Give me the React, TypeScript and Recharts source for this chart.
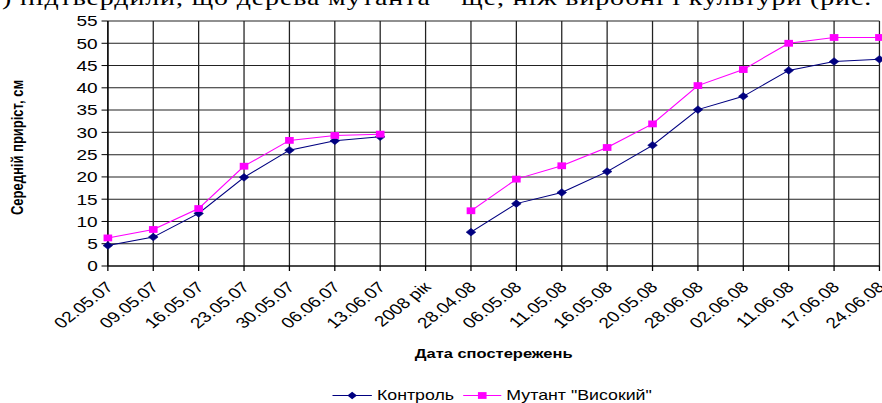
import React from "react";
import { LineChart, Line, XAxis, YAxis, CartesianGrid } from "recharts";

// observation dates (x categories)
const dates = [
  "02.05.07", "09.05.07", "16.05.07", "23.05.07", "30.05.07", "06.06.07", "13.06.07",
  "2008 рік",
  "28.04.08", "06.05.08", "11.05.08", "16.05.08", "20.05.08", "28.06.08", "02.06.08",
  "11.06.08", "17.06.08", "24.06.08",
];

// average growth, cm
const control = [4.6, 6.5, 11.8, 19.9, 26.0, 28.1, 29.0, null, 7.6, 14.0, 16.5, 21.2, 27.1, 35.1, 38.1, 43.9, 45.9, 46.4];
const mutant = [6.3, 8.2, 12.9, 22.4, 28.2, 29.3, 29.6, null, 12.4, 19.5, 22.5, 26.6, 31.9, 40.5, 44.1, 50.0, 51.3, 51.3];

const yTicks = [0, 5, 10, 15, 20, 25, 30, 35, 40, 45, 50, 55];

const data = dates.map((date, i) => ({ date, control: control[i], mutant: mutant[i] }));

// the whole figure is drawn narrow and stretched sideways
const W = 695;
const H = 403;
const SX = 882 / W;

const SANS = '"Liberation Sans", Arial, sans-serif';
const NAVY = "#000080";
const MAGENTA = "#FF00FF";

const diamond = (cx: number, cy: number, r: number) =>
  `M${cx},${cy - r}L${cx + r},${cy}L${cx},${cy + r}L${cx - r},${cy}Z`;

const DiamondDot = (p: any) => {
  if (p.cx == null || p.cy == null || p.value == null) return <g key={`d${p.index}`} />;
  return <path key={`d${p.index}`} d={diamond(p.cx, p.cy, 3.8)} fill={NAVY} stroke={NAVY} strokeWidth={0.5} />;
};

const SquareDot = (p: any) => {
  if (p.cx == null || p.cy == null || p.value == null) return <g key={`s${p.index}`} />;
  return <rect key={`s${p.index}`} x={p.cx - 3.4} y={p.cy - 3.4} width={6.8} height={6.8} fill={MAGENTA} />;
};

const DateTick = (p: any) => {
  const x = p.x + 5;
  const y = p.y + 15;
  return (
    <text x={x} y={y} transform={`rotate(-45 ${x} ${y})`} textAnchor="end" fontSize={15} fontFamily={SANS} fill="#000">
      {p.payload.value}
    </text>
  );
};

const XTitle = () => (
  <text x={389} y={358} textAnchor="middle" fontSize={13} fontWeight="bold" fontFamily={SANS} fill="#000">
    Дата спостережень
  </text>
);

const YTitle = () => (
  <text x={18} y={147.5} transform="rotate(-90 18 147.5)" textAnchor="middle" fontSize={13} fontWeight="bold" fontFamily={SANS} fill="#000">
    Середній приріст, см
  </text>
);

function LegendRow() {
  const y = 395.5;
  return (
    <svg width={W} height={H} style={{ position: "absolute", left: 0, top: 0, pointerEvents: "none" }}>
      <line x1={262} y1={y} x2={293} y2={y} stroke={NAVY} strokeWidth={1} />
      <path d={diamond(277.5, y, 3.8)} fill={NAVY} />
      <text x={297} y={y + 4.5} fontSize={14} fontFamily={SANS} fill="#000">Контроль</text>
      <line x1={365} y1={y} x2={395} y2={y} stroke={MAGENTA} strokeWidth={1} />
      <rect x={376.6} y={y - 3.4} width={6.8} height={6.8} fill={MAGENTA} />
      <text x={399} y={y + 4.5} fontSize={14} fontFamily={SANS} fill="#000">Мутант "Високий"</text>
    </svg>
  );
}

export default function App() {
  return (
    <div style={{ position: "absolute", left: 0, top: 0, width: 882, height: H, overflow: "hidden", background: "#fff" }}>
      <div style={{ position: "relative", width: W, height: H, transform: `scaleX(${SX})`, transformOrigin: "0 0" }}>
        <svg width={W} height={12} style={{ position: "absolute", left: 0, top: 0 }}>
          <text x={1.5} y={5} fontSize={22} fontFamily='"Liberation Serif", "Times New Roman", serif' textLength={685} lengthAdjust="spacing" fill="#000">
            ) підтвердили, що дерева мутанта – ще, ніж виробні і культури (рис.
          </text>
        </svg>
        <LineChart width={W} height={H} data={data} margin={{ top: 21, right: 2, bottom: 0, left: 0 }}>
          <CartesianGrid stroke="#222" strokeWidth={1} />
          <XAxis
            dataKey="date"
            interval={0}
            height={137}
            tickSize={5}
            tickLine={{ stroke: "#000" }}
            axisLine={{ stroke: "#000" }}
            tick={<DateTick />}
            label={<XTitle />}
          />
          <YAxis
            width={85}
            domain={[0, 55]}
            ticks={yTicks}
            interval={0}
            tickSize={5}
            tickMargin={3}
            tickLine={{ stroke: "#000" }}
            axisLine={{ stroke: "#000" }}
            tick={{ fontSize: 15, fontFamily: SANS, fill: "#000" }}
            label={<YTitle />}
          />
          <Line dataKey="control" stroke={NAVY} strokeWidth={1} dot={DiamondDot} activeDot={false} connectNulls={false} isAnimationActive={false} />
          <Line dataKey="mutant" stroke={MAGENTA} strokeWidth={1} dot={SquareDot} activeDot={false} connectNulls={false} isAnimationActive={false} />
        </LineChart>
        <LegendRow />
      </div>
    </div>
  );
}
